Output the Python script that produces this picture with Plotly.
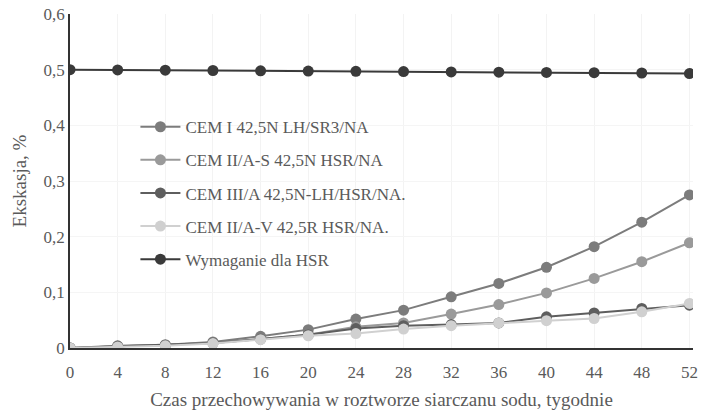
import plotly.graph_objects as go

weeks = [0, 4, 8, 12, 16, 20, 24, 28, 32, 36, 40, 44, 48, 52]
cem_i = [0, 0.004, 0.006, 0.011, 0.021, 0.033, 0.052, 0.068, 0.092, 0.116, 0.145, 0.182, 0.226, 0.275]
cem_iia_s = [0, 0.003, 0.005, 0.009, 0.016, 0.024, 0.038, 0.045, 0.061, 0.078, 0.099, 0.125, 0.155, 0.189]
cem_iiia = [0, 0.003, 0.005, 0.009, 0.016, 0.024, 0.035, 0.040, 0.042, 0.045, 0.056, 0.063, 0.071, 0.077]
cem_iia_v = [0, 0.002, 0.004, 0.008, 0.015, 0.022, 0.026, 0.034, 0.040, 0.045, 0.049, 0.053, 0.065, 0.080]
wymaganie = [0.5, 0.4995, 0.499, 0.4985, 0.498, 0.4975, 0.497, 0.4965, 0.496, 0.4955, 0.495, 0.4945, 0.494, 0.493]

names = ["CEM I 42,5N LH/SR3/NA", "CEM II/A-S 42,5N HSR/NA", "CEM III/A 42,5N-LH/HSR/NA.",
         "CEM II/A-V 42,5R HSR/NA.", "Wymaganie dla HSR"]
series = [cem_i, cem_iia_s, cem_iiia, cem_iia_v, wymaganie]
colors = ["#7c7c7c", "#9a9a9a", "#5e5e5e", "#d0d0d0", "#3a3a3a"]

y_ticks = [0, 0.1, 0.2, 0.3, 0.4, 0.5, 0.6]
y_tick_text = ["0", "0,1", "0,2", "0,3", "0,4", "0,5", "0,6"]

fig = go.Figure()
for i, (nm, vals, c) in enumerate(zip(names, series, colors)):
    fig.add_trace(go.Scatter(
        x=weeks, y=vals, name=nm, mode="lines+markers",
        line=dict(color=c, width=2),
        marker=dict(color=c, size=11),
        legendgroup=f"g{i}",
    ))

font_family = "Liberation Serif, Times New Roman, serif"
txt = "#5a5a5a"
fig.update_layout(
    width=705, height=416,
    margin=dict(l=70, r=12, t=14, b=68),
    paper_bgcolor="white", plot_bgcolor="white",
    font=dict(family=font_family, size=17, color=txt),
    showlegend=True,
    legend=dict(x=0.105, y=0.715, xanchor="left", yanchor="top", itemwidth=40,
                bgcolor="rgba(255,255,255,0)", font=dict(size=17, color=txt),
                tracegroupgap=8),
    xaxis=dict(range=[0, 52.3], tickvals=weeks, showgrid=True, gridcolor="#f3f3f3",
               showline=True, linecolor="#333333", linewidth=1.5, zeroline=False,
               automargin=False,
               ticks="", ticklabelstandoff=8, tickfont=dict(size=17, color=txt),
               title=dict(text="Czas przechowywania w roztworze siarczanu sodu, tygodnie",
                          font=dict(size=19, color=txt), standoff=12)),
    yaxis=dict(range=[0, 0.6], tickvals=y_ticks, ticktext=y_tick_text, showgrid=True,
               gridcolor="#f5f5f5", showline=True, linecolor="#333333", linewidth=1.5,
               zeroline=False, ticks="", tickfont=dict(size=17, color=txt),
               automargin=False,
               title=dict(text="Ekskasja, %", font=dict(size=19, color=txt), standoff=12)),
)
fig.write_html("out.html", config={"displayModeBar": False},
               post_script="document.body.style.margin='0';")
